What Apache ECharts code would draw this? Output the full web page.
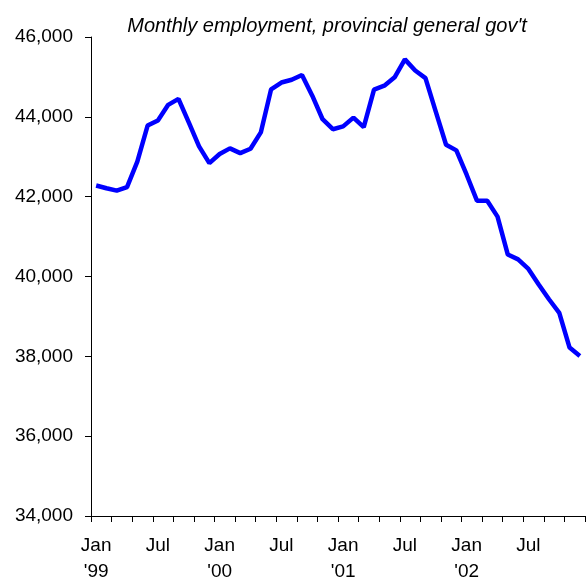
<!DOCTYPE html>
<html>
<head>
<meta charset="utf-8">
<script src="https://cdn.jsdelivr.net/npm/echarts@6/dist/echarts.min.js"></script>
<style>
  html, body { margin: 0; padding: 0; background: #fff; }
  #chart { width: 586px; height: 579px; }
</style>
</head>
<body>
<div id="chart"></div>
<script>
// months Jan 1999 .. Dec 2002
const years = ["'99", "'00", "'01", "'02"]
const monthNames = ["Jan", "Feb", "Mar", "Apr", "May", "Jun", "Jul", "Aug", "Sep", "Oct", "Nov", "Dec"]
const categories = []
years.forEach((y) => monthNames.forEach((m) => categories.push(m + " " + y)))

// employment values
const employment = [
  42280, 42210, 42150, 42240, 42880, 43780, 43910, 44300, 44450, 43860, 43260, 42840,
  43070, 43210, 43090, 43200, 43610, 44690, 44860, 44930, 45050, 44530, 43940, 43690,
  43760, 43980, 43740, 44680, 44780, 44990, 45440, 45160, 44970, 44130, 43300, 43160,
  42550, 41900, 41900, 41500, 40550, 40430, 40190, 39800, 39430, 39090, 38220, 38010,
]

const yTicks = { min: 34000, max: 46000, interval: 2000 }
const title = "Monthly employment, provincial general gov't"

const chart = echarts.init(document.getElementById("chart"))

chart.setOption({
  animation: false,
  textStyle: { fontFamily: "Liberation Sans, Arial, sans-serif" },
  title: {
    text: title,
    left: 322,
    top: 11,
    textAlign: "center",
    textStyle: { fontSize: 20, fontStyle: "italic", fontWeight: "normal", color: "#000" },
  },
  grid: { left: 91, right: 1, top: 37, bottom: 63, containLabel: false, outerBoundsMode: "none" },
  xAxis: {
    type: "category",
    data: categories,
    boundaryGap: true,
    axisLine: { lineStyle: { color: "#000", width: 1 } },
    axisTick: { show: true, interval: (idx) => idx % 2 === 0, length: 6, lineStyle: { color: "#000" } },
    axisLabel: {
      interval: (idx) => idx % 6 === 0,
      formatter: (val) => {
        const [m, y] = val.split(" ")
        return m === "Jan" ? m + "\n" + y : m
      },
      color: "#000",
      fontSize: 19,
      lineHeight: 26,
      margin: 17,
    },
  },
  yAxis: {
    type: "value",
    min: yTicks.min,
    max: yTicks.max,
    interval: yTicks.interval,
    axisLine: { show: true, lineStyle: { color: "#000", width: 1 } },
    axisTick: { show: true, length: 6, lineStyle: { color: "#000" } },
    splitLine: { show: false },
    axisLabel: {
      color: "#000",
      fontSize: 19,
      margin: 18,
      formatter: (v) => v.toLocaleString("en-US"),
    },
  },
  series: [
    {
      type: "line",
      data: employment,
      showSymbol: false,
      lineStyle: { color: "#0000ff", width: 4.5 },
    },
  ],
})
</script>
</body>
</html>
